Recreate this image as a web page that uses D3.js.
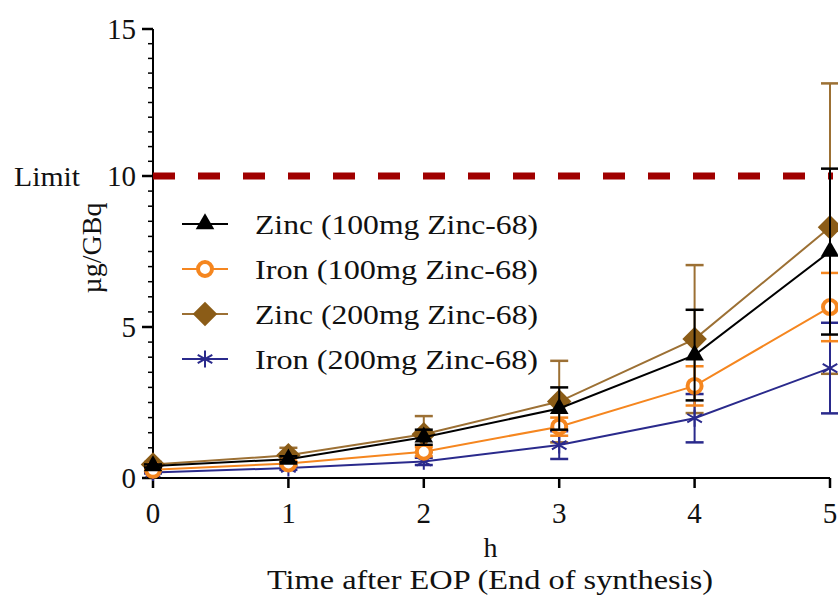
<!DOCTYPE html>
<html>
<head>
<meta charset="utf-8">
<script src="https://cdn.jsdelivr.net/npm/d3@7"></script>
<style>
  body { margin: 0; background: #fff; }
  svg text { font-family: "Liberation Serif", "Times New Roman", serif; fill: #111; }
</style>
</head>
<body>
<svg id="chart" width="838" height="609"></svg>
<script>
// data
var hours = [0, 1, 2, 3, 4, 5];
var zinc100 = [0.40, 0.62, 1.35, 2.30, 4.07, 7.50];
var zinc100Err = [0.05, 0.10, 0.25, 0.70, 1.50, 2.75];
var iron100 = [0.27, 0.48, 0.87, 1.70, 3.05, 5.66];
var iron100Err = [0.03, 0.08, 0.15, 0.30, 0.65, 1.13];
var zinc200 = [0.45, 0.75, 1.45, 2.53, 4.60, 8.30];
var zinc200Err = [0.08, 0.25, 0.60, 1.35, 2.45, 4.85];
var iron200 = [0.18, 0.33, 0.55, 1.09, 1.98, 3.64];
var iron200Err = [0.03, 0.06, 0.12, 0.46, 0.80, 1.50];
var yTicks = [0, 5, 10, 15];
var limitValue = 10;

var series = [
    { name: "Zinc (200mg Zinc-68)", values: zinc200, err: zinc200Err, color: "#9c7034", mark: "#8b5c17", symbol: "diamond" },
    { name: "Iron (200mg Zinc-68)", values: iron200, err: iron200Err, color: "#2a2a8c", mark: "#2a2a8c", symbol: "star" },
    { name: "Iron (100mg Zinc-68)", values: iron100, err: iron100Err, color: "#f5861f", mark: "#f5861f", symbol: "circle" },
    { name: "Zinc (100mg Zinc-68)", values: zinc100, err: zinc100Err, color: "#000", mark: "#000", symbol: "triangle" }
];
var legendOrder = [3, 2, 0, 1];

var svg = d3.select("#chart");

var x = d3.scaleLinear().domain([0, 5]).range([153, 830]);
// the y axis in the picture is not quite linear above 10
var y = d3.scaleLinear().domain([0, 10, 15]).range([478, 176, 29]);

// y axis
var yAxis = svg.append("g").attr("transform", "translate(153,0)");
yAxis.append("line").attr("y1", y(15)).attr("y2", y(0)).attr("stroke", "#000").attr("stroke-width", 2);
var minor = d3.range(0.5, 15, 0.5).filter(function (d) { return d % 5 !== 0; });
yAxis.selectAll(".minor").data(minor).enter().append("line")
    .attr("x1", -5).attr("x2", 0)
    .attr("y1", function (d) { return y(d); }).attr("y2", function (d) { return y(d); })
    .attr("stroke", "#000").attr("stroke-width", 1.5);
yAxis.selectAll(".major").data(yTicks).enter().append("line")
    .attr("x1", -11).attr("x2", 0)
    .attr("y1", function (d) { return y(d); }).attr("y2", function (d) { return y(d); })
    .attr("stroke", "#000").attr("stroke-width", 2.5);
yAxis.selectAll(".lab").data(yTicks).enter().append("text")
    .attr("x", -17).attr("y", function (d) { return y(d) + 10; })
    .attr("text-anchor", "end").attr("font-size", 29)
    .text(function (d) { return d; });

// x axis
var xAxis = svg.append("g").attr("transform", "translate(0,478)");
xAxis.append("line").attr("x1", x(0)).attr("x2", x(5)).attr("stroke", "#000").attr("stroke-width", 2);
xAxis.selectAll(".tick").data(hours).enter().append("line")
    .attr("x1", function (d) { return x(d); }).attr("x2", function (d) { return x(d); })
    .attr("y1", 0).attr("y2", 10).attr("stroke", "#000").attr("stroke-width", 2.5);
xAxis.selectAll(".lab").data(hours).enter().append("text")
    .attr("x", function (d) { return x(d); }).attr("y", 45)
    .attr("text-anchor", "middle").attr("font-size", 29)
    .text(function (d) { return d; });

// axis titles (the source image is a bit stretched sideways, hence textLength)
svg.append("text").attr("x", x(2.5) - 1).attr("y", 557).attr("text-anchor", "middle")
    .attr("font-size", 28).text("h");
svg.append("text").attr("x", 490).attr("y", 589).attr("text-anchor", "middle")
    .attr("font-size", 28).attr("textLength", 446).attr("lengthAdjust", "spacingAndGlyphs")
    .text("Time after EOP (End of synthesis)");
svg.append("text").attr("transform", "translate(101,248) rotate(-90)")
    .attr("text-anchor", "middle").attr("font-size", 28).text("µg/GBq");

// limit line
svg.append("line").attr("x1", x(0)).attr("x2", x(5) + 3)
    .attr("y1", y(limitValue)).attr("y2", y(limitValue))
    .attr("stroke", "#a00000").attr("stroke-width", 7).attr("stroke-dasharray", "22 23");
svg.append("text").attr("x", 14).attr("y", y(limitValue) + 10).attr("font-size", 28)
    .attr("textLength", 66).attr("lengthAdjust", "spacingAndGlyphs").text("Limit");

function drawMarker(g, s) {
    if (s.symbol === "circle") {
        g.append("circle").attr("r", 7).attr("fill", "#fff").attr("stroke", s.mark).attr("stroke-width", 4);
    } else if (s.symbol === "star") {
        g.append("path").attr("d", d3.symbol().type(d3.symbolAsterisk).size(200)())
            .attr("fill", "none").attr("stroke", s.mark).attr("stroke-width", 2);
    } else if (s.symbol === "diamond") {
        g.append("path").attr("d", d3.symbol().type(d3.symbolSquare).size(300)())
            .attr("transform", "rotate(45)").attr("fill", s.mark);
    } else {
        g.append("path").attr("d", d3.symbol().type(d3.symbolTriangle).size(150)())
            .attr("fill", s.mark);
    }
}

var line = d3.line()
    .x(function (d, i) { return x(hours[i]); })
    .y(function (d) { return y(d); });

// error bars, lines, markers
series.forEach(function (s) {
    var g = svg.append("g");
    var eb = g.selectAll(".eb").data(s.values).enter().append("g")
        .attr("transform", function (d, i) { return "translate(" + x(hours[i]) + ",0)"; });
    eb.append("line")
        .attr("y1", function (d, i) { return y(d - s.err[i]); })
        .attr("y2", function (d, i) { return y(d + s.err[i]); })
        .attr("stroke", s.color).attr("stroke-width", 2);
    eb.append("line").attr("x1", -9).attr("x2", 9)
        .attr("y1", function (d, i) { return y(d + s.err[i]); })
        .attr("y2", function (d, i) { return y(d + s.err[i]); })
        .attr("stroke", s.color).attr("stroke-width", 2.5);
    eb.append("line").attr("x1", -9).attr("x2", 9)
        .attr("y1", function (d, i) { return y(d - s.err[i]); })
        .attr("y2", function (d, i) { return y(d - s.err[i]); })
        .attr("stroke", s.color).attr("stroke-width", 2.5);

    g.append("path").attr("d", line(s.values)).attr("fill", "none")
        .attr("stroke", s.color).attr("stroke-width", 2);

    g.selectAll(".pt").data(s.values).enter().append("g")
        .attr("transform", function (d, i) { return "translate(" + x(hours[i]) + "," + y(d) + ")"; })
        .each(function () { drawMarker(d3.select(this), s); });
});

// legend
var legend = svg.append("g");
legendOrder.forEach(function (k, i) {
    var s = series[k];
    var row = legend.append("g").attr("transform", "translate(0," + (224 + i * 45) + ")");
    row.append("line").attr("x1", 182).attr("x2", 228).attr("stroke", s.color).attr("stroke-width", 2);
    drawMarker(row.append("g").attr("transform", "translate(205,0)"), s);
    row.append("text").attr("x", 255).attr("y", 10).attr("font-size", 28)
        .attr("textLength", 283).attr("lengthAdjust", "spacingAndGlyphs").text(s.name);
});
</script>
</body>
</html>
